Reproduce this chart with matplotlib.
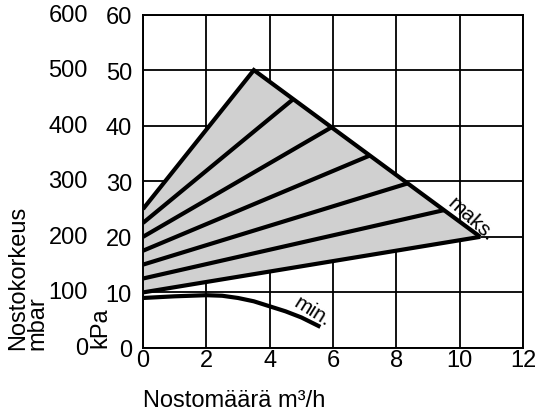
import numpy as np
import matplotlib.pyplot as plt
import matplotlib.transforms as mtransforms

plt.rcParams['font.family'] = ['Liberation Sans', 'DejaVu Sans']

# Pump curves: head in kPa vs flow in m3/h
fan_start = [25, 22.5, 20, 17.5, 15, 12.5, 10]        # head at zero flow
fan_end_x = [3.5, 4.75, 5.95, 7.15, 8.35, 9.5, 10.65]  # end point on max edge
fan_end_y = [50, 44.8, 39.7, 34.6, 29.6, 24.8, 20]

min_x = [0, 1, 2, 2.5, 3, 3.5, 4, 4.5, 5, 5.6]
min_y = [9.0, 9.3, 9.5, 9.4, 9.0, 8.4, 7.5, 6.6, 5.5, 3.8]

kpa_ticks = [0, 10, 20, 30, 40, 50, 60]
mbar_labels = ['0', '100', '200', '300', '400', '500', '600']
x_ticks = [0, 2, 4, 6, 8, 10, 12]

fig = plt.figure(figsize=(5.39, 4.14), dpi=100)
ax = fig.add_axes([143/539, 65/414, 380/539, 333.5/414])

# shaded area of the max envelope
poly_x = [0, 0, fan_end_x[0], fan_end_x[-1]]
poly_y = [fan_start[-1], fan_start[0], fan_end_y[0], fan_end_y[-1]]
ax.fill(poly_x, poly_y, color='#d0d0d0', zorder=1)

# fan of speed lines, then the outer boundary on top
for y0, x1, y1 in zip(fan_start[1:], fan_end_x[1:], fan_end_y[1:]):
    ax.plot([0, x1], [y0, y1], color='black', lw=3.0, zorder=3, solid_capstyle='butt')
ax.plot([0, fan_end_x[0], fan_end_x[-1]], [fan_start[0], fan_end_y[0], fan_end_y[-1]],
        color='black', lw=3.0, zorder=4, solid_joinstyle='miter', solid_capstyle='butt')

ax.plot(min_x, min_y, color='black', lw=3.0, zorder=3, solid_capstyle='butt')

ax.text(10.35, 23.3, 'maks.', rotation=-42, fontsize=15, ha='center', va='center', zorder=5)
ax.text(5.35, 6.7, 'min.', rotation=-32, fontsize=15, ha='center', va='center', zorder=5)

ax.set_xlim(0, 12)
ax.set_ylim(0, 60)
ax.set_xticks(x_ticks)
ax.set_yticks(kpa_ticks)
ax.grid(True, color='black', lw=1.3, zorder=0)
ax.set_axisbelow(True)
for s in ax.spines.values():
    s.set_linewidth(1.4)
ax.tick_params(length=0, labelsize=17)
ax.tick_params(axis='y', pad=8)
ax.tick_params(axis='x', pad=1)

# mbar column of tick labels
trans = mtransforms.blended_transform_factory(ax.transAxes, ax.transData)
for v, lab in zip(kpa_ticks, mbar_labels):
    ax.text(-0.145, v, lab, transform=trans, ha='right', va='center', fontsize=17)

fig.text(28/539, 64/414, 'Nostokorkeus\nmbar', rotation=90, ha='center', va='bottom',
         multialignment='left', linespacing=0.85, fontsize=17)
fig.text(100/539, 66/414, 'kPa', rotation=90, ha='center', va='bottom', fontsize=17)
fig.text(143/539, 7/414, 'Nostomäärä m³/h', ha='left', va='baseline', fontsize=17)

fig.savefig('out.png', dpi=100)
